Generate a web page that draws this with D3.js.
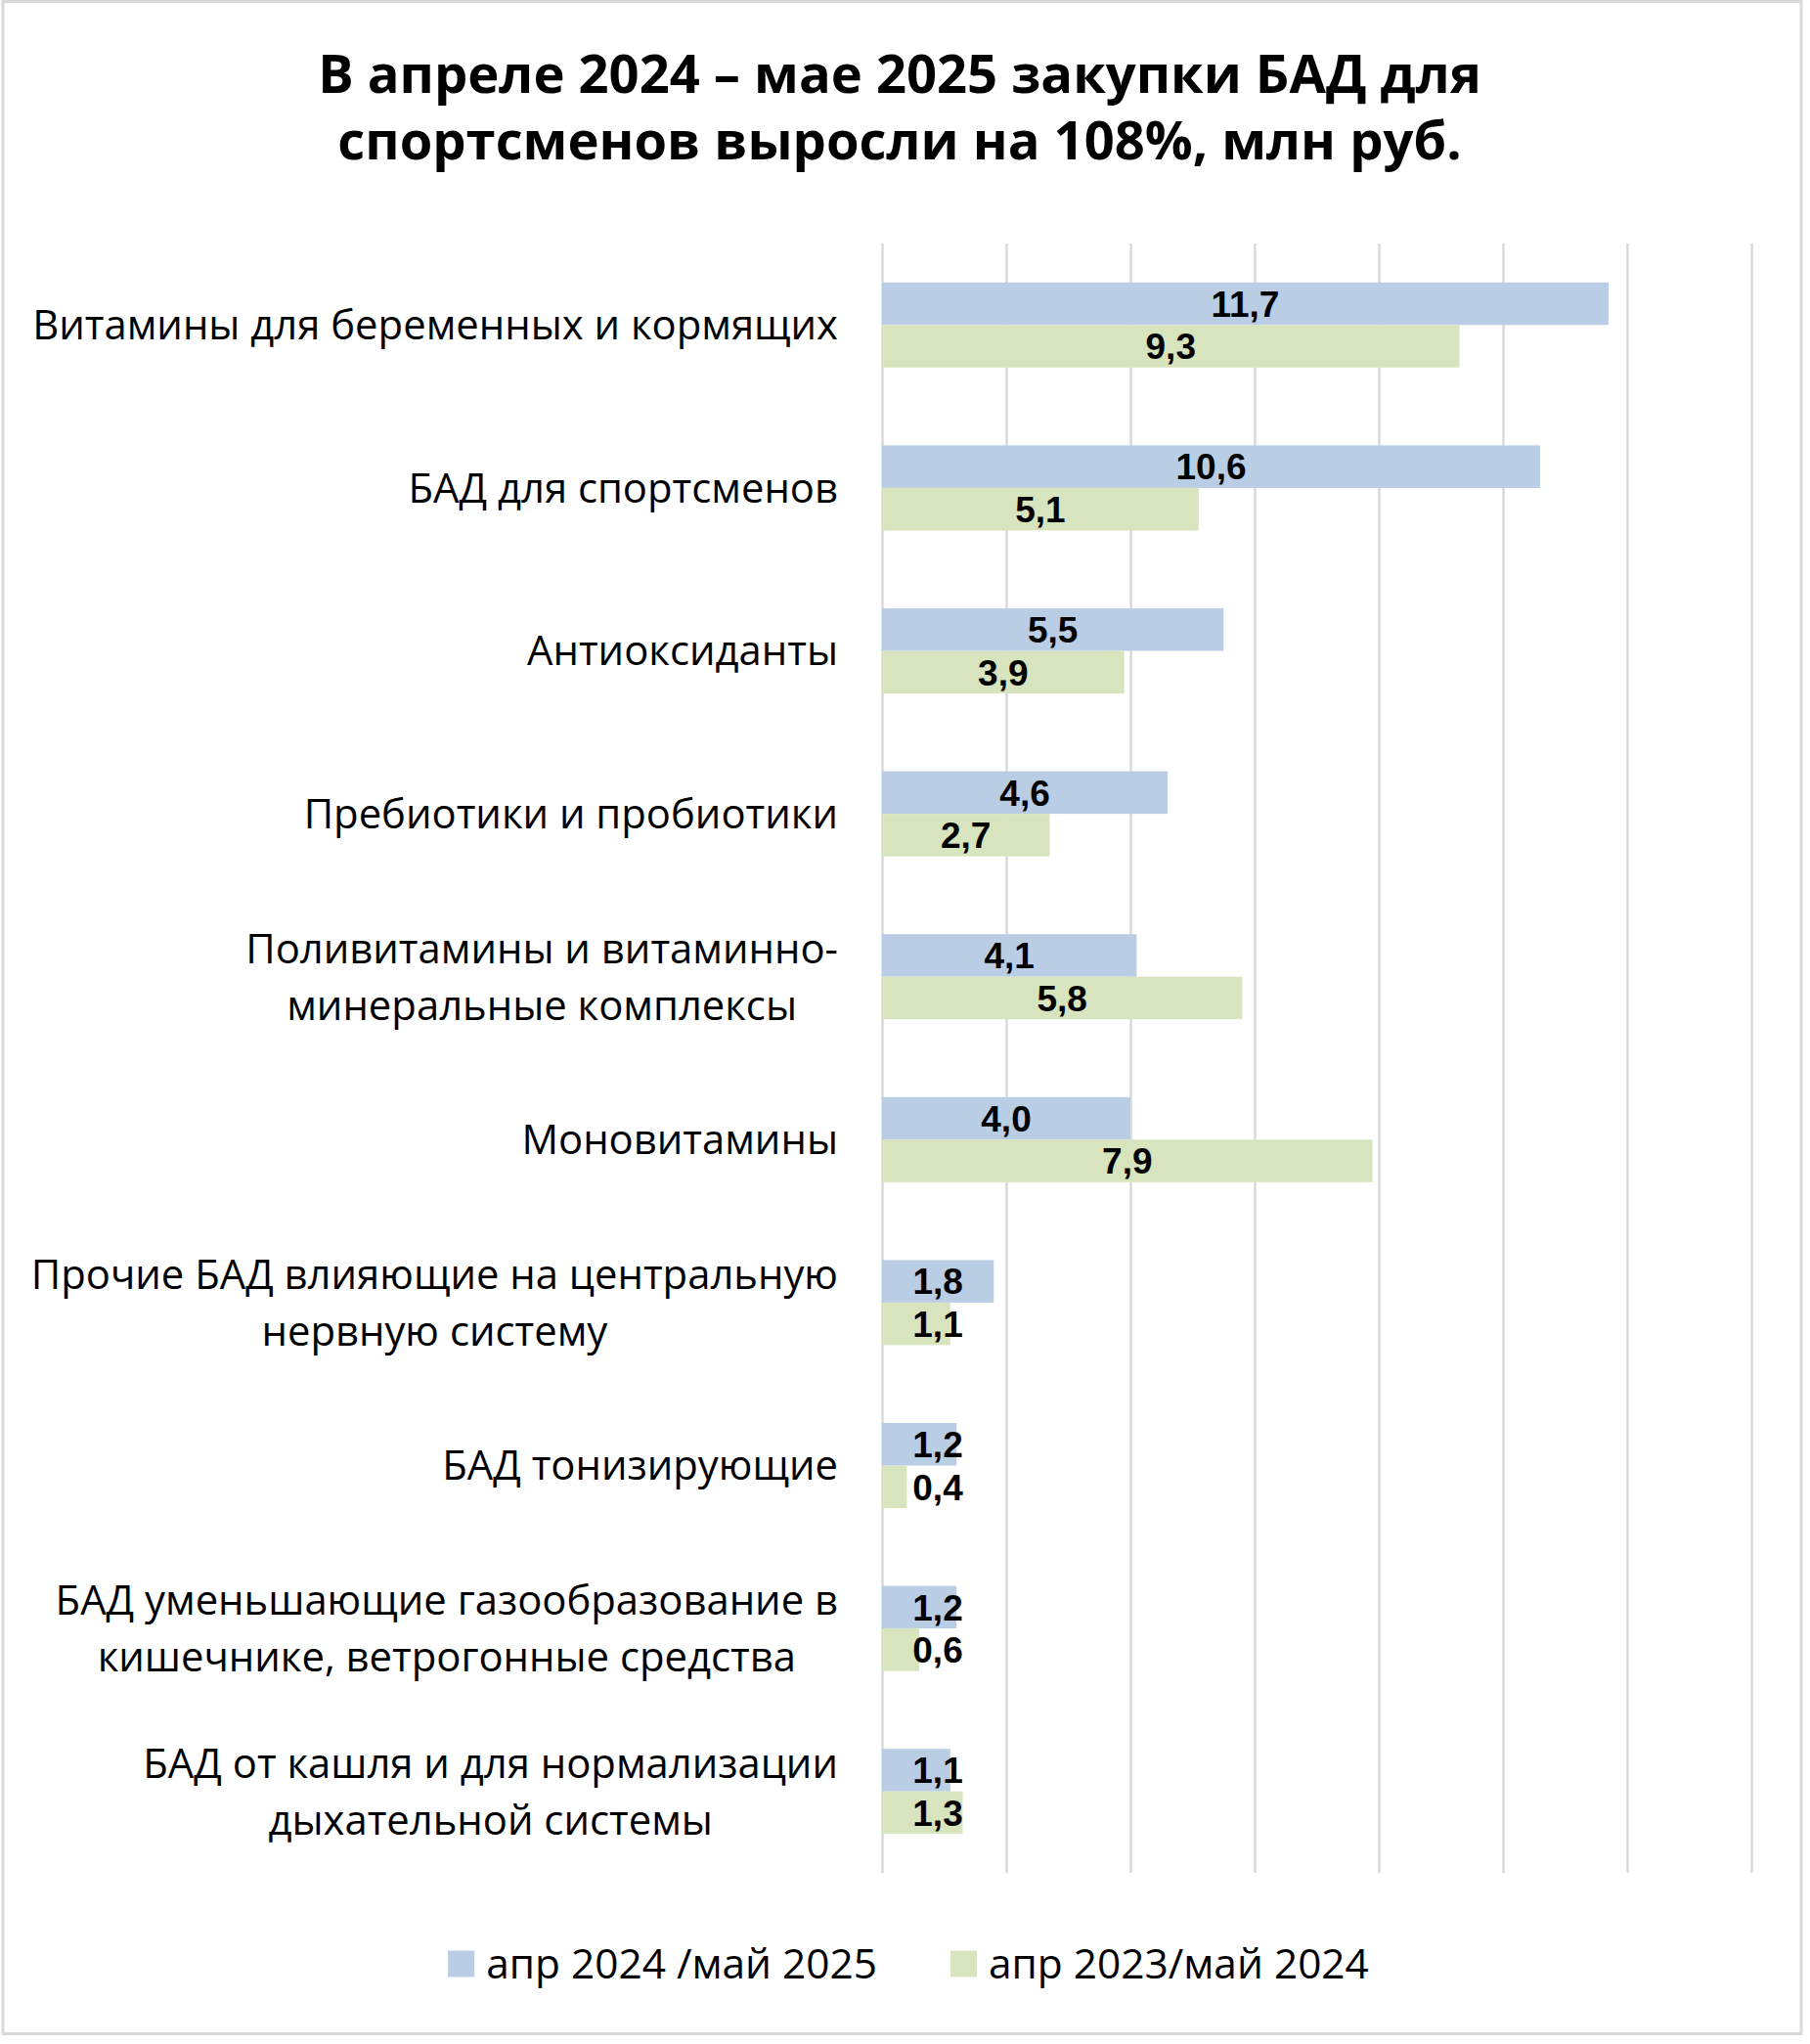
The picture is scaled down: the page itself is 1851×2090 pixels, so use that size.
<!DOCTYPE html>
<html><head><meta charset="utf-8">
<script src="https://cdn.jsdelivr.net/npm/d3@7"></script>
<style>body{margin:0;background:#fff} svg{display:block}</style>
</head><body>
<svg id="c" width="1851" height="2090"></svg>
<script>
// ---- data ----
const categories = [
  "Витамины для беременных и кормящих",
  "БАД для спортсменов",
  "Антиоксиданты",
  "Пребиотики и пробиотики",
  "Поливитамины и витаминно-\nминеральные комплексы",
  "Моновитамины",
  "Прочие БАД влияющие на центральную\nнервную систему",
  "БАД тонизирующие",
  "БАД уменьшающие газообразование в\nкишечнике, ветрогонные средства",
  "БАД от кашля и для нормализации\nдыхательной системы"
];
const seriesNames = ["апр 2024 /май 2025", "апр 2023/май 2024"];
const valuesCurrent  = [11.7, 10.6, 5.5, 4.6, 4.1, 4.0, 1.8, 1.2, 1.2, 1.1];
const valuesPrevious = [9.3, 5.1, 3.9, 2.7, 5.8, 7.9, 1.1, 0.4, 0.6, 1.3];
const xTicks = [0, 2, 4, 6, 8, 10, 12, 14];
const titleLines = ["В апреле 2024 – мае 2025 закупки БАД для", "спортсменов выросли на 108%, млн руб."];

// ---- setup ----
const W = 1851, H = 2090;
const FF = "'Open Sans', 'Noto Sans', sans-serif";
const FL = "'Liberation Sans', Arial, sans-serif";
const colors = ["#B9CDE5", "#D7E4BD"];
const svg = d3.select("#c");
const fmt = d3.formatLocale({decimal: ",", thousands: " ", grouping: [3], currency: ["", ""]}).format(".1f");

function textW(text, weight, size, fam) {
  const t = svg.append("text").attr("font-family", fam || FF).attr("font-weight", weight)
    .attr("font-size", size).text(text);
  const w = t.node().getComputedTextLength();
  t.remove();
  return w;
}
function fitSize(text, weight, base, target) {
  return base * target / textW(text, weight, base);
}

// background + border
svg.append("rect").attr("x", 0).attr("y", 0).attr("width", W).attr("height", H).attr("fill", "#fff");
svg.append("rect").attr("x", 3).attr("y", 1.5).attr("width", 1839).attr("height", 2078)
  .attr("fill", "#fff").attr("stroke", "#D9D9D9").attr("stroke-width", 3);

// title
const titleSize = fitSize(titleLines[0], 700, 50, 1190);
svg.append("g").selectAll("text").data(titleLines).join("text")
  .attr("x", 920).attr("y", (d, i) => 95 + i * 68)
  .attr("text-anchor", "middle").attr("font-family", FF).attr("font-weight", 700)
  .attr("font-size", titleSize).attr("fill", "#000").text(d => d);

// scales
const plot = {left: 902, right: 1791, top: 249, bottom: 1915};
const x = d3.scaleLinear().domain([0, 14]).range([plot.left, plot.right]);
const y = d3.scaleBand().domain(categories).range([plot.top, plot.bottom])
  .paddingInner(0.478).paddingOuter(0.239);
const ySub = d3.scaleBand().domain([0, 1]).range([0, y.bandwidth()]);

// gridlines
const grid = svg.append("g").attr("transform", `translate(0,${plot.bottom})`)
  .call(d3.axisBottom(x).tickValues(xTicks).tickSize(-(plot.bottom - plot.top)).tickFormat(""));
grid.select(".domain").remove();
grid.selectAll(".tick line").attr("stroke", "#D9D9D9").attr("stroke-width", 2.5);

// bars
const series = [valuesCurrent, valuesPrevious];
const rows = [];
categories.forEach((c, i) => series.forEach((vals, s) => rows.push({c, s, v: vals[i]})));
svg.append("g").selectAll("rect").data(rows).join("rect")
  .attr("x", x(0))
  .attr("y", d => y(d.c) + ySub(d.s))
  .attr("width", d => x(d.v) - x(0))
  .attr("height", ySub.bandwidth())
  .attr("fill", d => colors[d.s]);

// data labels
const labSize = 37;
svg.append("g").selectAll("text").data(rows).join("text")
  .attr("x", d => Math.max((x(0) + x(d.v)) / 2, x(0) + 57))
  .attr("y", d => y(d.c) + ySub(d.s) + ySub.bandwidth() / 2 + 0.36 * labSize)
  .attr("text-anchor", "middle").attr("font-family", FL).attr("font-weight", 700)
  .attr("font-size", labSize).attr("fill", "#000").text(d => fmt(d.v));

// category labels
const catSize = fitSize(categories[0], 400, 40, 824);
const catRight = 857, lineGap = 58;
const cg = svg.append("g");
categories.forEach(c => {
  const lines = c.split("\n");
  const maxW = d3.max(lines, l => textW(l, 400, catSize));
  const cx = catRight - maxW / 2;
  const cy = y(c) + y.bandwidth() / 2;
  cg.selectAll(null).data(lines).join("text")
    .attr("x", cx)
    .attr("y", (l, i) => cy + (i - (lines.length - 1) / 2) * lineGap + 0.357 * catSize)
    .attr("text-anchor", "middle").attr("font-family", FF).attr("font-weight", 400)
    .attr("font-size", catSize).attr("fill", "#000").text(l => l);
});

// legend
const legSize = fitSize(seriesNames[0], 400, 40, 400);
const sq = 27, gapIn = 12, gapItem = 75;
const widths = seriesNames.map(n => textW(n, 400, legSize));
const total = d3.sum(widths) + seriesNames.length * (sq + gapIn) + gapItem * (seriesNames.length - 1);
let lx = 929 - total / 2;
const ly = 2008;
const lg = svg.append("g");
seriesNames.forEach((n, i) => {
  lg.append("rect").attr("x", lx).attr("y", ly - sq / 2).attr("width", sq).attr("height", sq).attr("fill", colors[i]);
  lg.append("text").attr("x", lx + sq + gapIn).attr("y", ly + 0.357 * legSize)
    .attr("font-family", FF).attr("font-size", legSize).attr("fill", "#000").text(n);
  lx += sq + gapIn + widths[i] + gapItem;
});
</script>
</body></html>
